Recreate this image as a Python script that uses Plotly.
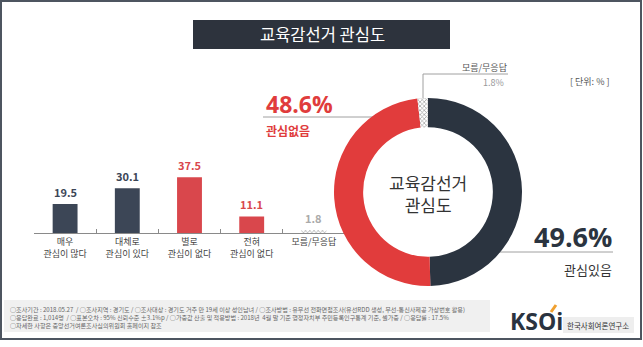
import plotly.graph_objects as go

W, H = 643, 347

# ---- data ----
bar_categories = ["매우<br>관심이 많다", "대체로<br>관심이 있다", "별로<br>관심이 없다", "전혀<br>관심이 없다", "모름/무응답"]
bar_values = [19.5, 30.1, 37.5, 11.1, 1.8]
bar_colors = ["#3c4656", "#3c4656", "#d9474c", "#d9474c", "#ffffff"]
bar_label_colors = ["#3c4656", "#3c4656", "#d9474c", "#d9474c", "#aaaaaa"]
bar_patterns = ["", "", "", "", "x"]

donut_labels = ["관심있음", "관심없음", "모름/무응답"]
donut_values = [49.6, 48.6, 1.8]
donut_colors = ["#2b3440", "#e13c3c", "#ffffff"]
donut_patterns = ["", "", "x"]

title_text = "교육감선거 관심도"
center_text = "교육감선거<br>관심도"
unit_text = "[ 단위: % ]"
footnote_lines = [
    "○조사기간 : 2018.05.27  / ○조사지역 : 경기도 / ○조사대상 : 경기도 거주 만 19세 이상 성인남녀 / ○조사방법 : 유무선 전화면접조사(유선RDD 생성, 무선-통신사제공 가상번호 활용)",
    "○응답완료 : 1,014명  / ○표본오차 : 95% 신뢰수준 ±3.1%p / ○가중값 산출 및 적용방법 : 2018년  4월 말 기준 행정자치부 주민등록인구통계 기준, 셀가중 / ○응답률 : 17.5%",
    "○자세한 사항은 중앙선거여론조사심의위원회 홈페이지 참조",
]

KR = "Noto Sans CJK KR"


def px(x):
    return x / W


def py(y):
    return 1 - y / H


fig = go.Figure()

fig.add_trace(go.Bar(
    x=bar_categories, y=bar_values,
    marker=dict(color=bar_colors, line=dict(width=0),
                pattern=dict(shape=bar_patterns, fgcolor="#9a9a9a", size=3, solidity=0.4)),
    width=0.4, hoverinfo="skip", showlegend=False,
))

for c, v, col in zip(bar_categories, bar_values, bar_label_colors):
    fig.add_annotation(x=c, y=v, xref="x", yref="y", text=f"<b>{v}</b>",
                       showarrow=False, yanchor="bottom", yshift=2,
                       font=dict(family=KR, size=11, color=col))

fig.add_trace(go.Pie(
    labels=donut_labels, values=donut_values, sort=False, direction="clockwise",
    rotation=0, hole=0.69, textinfo="none", hoverinfo="skip", showlegend=False,
    marker=dict(colors=donut_colors, line=dict(width=0),
                pattern=dict(shape=donut_patterns, fgcolor="#9a9a9a", size=3, solidity=0.4)),
    domain=dict(x=[px(428 - 94), px(428 + 94)], y=[py(192 + 94), py(192 - 94)]),
))

shapes = [
    # outer frame
    dict(type="rect", xref="paper", yref="paper", x0=px(1), x1=px(641), y0=py(339), y1=py(1),
         line=dict(color="#4d5560", width=2), layer="below"),
    # title box
    dict(type="rect", xref="paper", yref="paper", x0=px(193), x1=px(450), y0=py(49), y1=py(20),
         fillcolor="#2d333d", line=dict(width=0), layer="below"),
    # footnote box
    dict(type="rect", xref="paper", yref="paper", x0=px(4), x1=px(490), y0=py(332), y1=py(300),
         fillcolor="#f0f0f0", line=dict(width=0), layer="below"),
    # logo label box
    dict(type="rect", xref="paper", yref="paper", x0=px(563), x1=px(634), y0=py(333), y1=py(317),
         fillcolor="#eeeeee", line=dict(width=0), layer="below"),
    # leader lines
    dict(type="line", xref="paper", yref="paper", x0=px(263), x1=px(425), y0=py(117), y1=py(117),
         line=dict(color="#a0a0a0", width=1), layer="below"),
    dict(type="line", xref="paper", yref="paper", x0=px(480), x1=px(613), y0=py(252), y1=py(252),
         line=dict(color="#a0a0a0", width=1), layer="below"),
    dict(type="line", xref="paper", yref="paper", x0=px(423), x1=px(508), y0=py(74), y1=py(74),
         line=dict(color="#a0a0a0", width=1), layer="below"),
    dict(type="line", xref="paper", yref="paper", x0=px(423), x1=px(423), y0=py(74), y1=py(100),
         line=dict(color="#a0a0a0", width=1), layer="below"),
    # logo accent
    dict(type="line", xref="paper", yref="paper", x0=px(551), x1=px(556), y0=py(312), y1=py(305),
         line=dict(color="#f0a030", width=3)),
]

ann = [
    dict(x=px(322), y=py(34), text=title_text, font=dict(family=KR, size=16.5, color="#ffffff")),
    dict(x=px(428), y=py(193), text=center_text, font=dict(family=KR, size=17, color="#333333")),
    dict(x=px(264), y=py(104), text="<b>48.6%</b>", xanchor="left",
         font=dict(family="Open Sans", size=23, color="#e03c3c")),
    dict(x=px(264), y=py(130), text="<b>관심없음</b>", xanchor="left",
         font=dict(family=KR, size=12, color="#e03c3c")),
    dict(x=px(614), y=py(236), text="<b>49.6%</b>", xanchor="right",
         font=dict(family="Open Sans", size=27, color="#2b3440")),
    dict(x=px(614), y=py(269), text="관심있음", xanchor="right",
         font=dict(family=KR, size=13, color="#333333")),
    dict(x=px(509), y=py(67), text="모름/무응답", xanchor="right",
         font=dict(family=KR, size=9, color="#555555")),
    dict(x=px(506), y=py(82), text="1.8%", xanchor="right",
         font=dict(family=KR, size=9, color="#999999")),
    dict(x=px(611), y=py(81), text=unit_text, xanchor="right",
         font=dict(family=KR, size=9, color="#555555")),
    dict(x=px(508), y=py(321), text="<b>KSOi</b>", xanchor="left",
         font=dict(family="Open Sans", size=23, color="#2a3340")),
    dict(x=px(598), y=py(325), text="한국사회여론연구소",
         font=dict(family=KR, size=7.5, color="#333333")),
]
for i, line in enumerate(footnote_lines):
    ann.append(dict(x=px(8), y=py(309 + 8 * i), text=line, xanchor="left",
                    font=dict(family=KR, size=6.1, color="#666666")))

for a in ann:
    a.setdefault("xref", "paper")
    a.setdefault("yref", "paper")
    a.setdefault("showarrow", False)
    a.setdefault("xanchor", "center")
    a.setdefault("yanchor", "middle")
    fig.add_annotation(**a)

fig.update_layout(
    width=W, height=H, margin=dict(l=0, r=0, t=0, b=0),
    paper_bgcolor="#ffffff", plot_bgcolor="rgba(0,0,0,0)",
    shapes=shapes, bargap=0.6,
    xaxis=dict(domain=[px(34), px(345)], type="category", showline=True, linecolor="#8a8a8a",
               linewidth=1, ticks="inside", ticklen=4, tickcolor="#8a8a8a", tickson="boundaries",
               showgrid=False, zeroline=False, fixedrange=True,
               tickfont=dict(family=KR, size=9, color="#444444")),
    yaxis=dict(domain=[py(233), py(233 - 74.5)], range=[0, 50], visible=False, fixedrange=True),
)

fig.write_html("out.html")
